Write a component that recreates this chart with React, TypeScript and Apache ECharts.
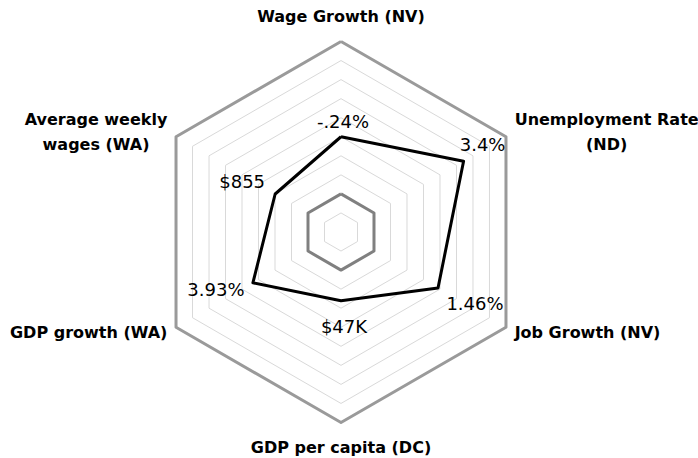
import React, { useEffect, useRef } from "react";
import * as echarts from "echarts";

// Indicators, listed counter-clockwise starting at the top
const indicatorNames = [
  "Wage Growth (NV)",
  "Average weekly\nwages (WA)",
  "GDP growth (WA)",
  "GDP per capita (DC)",
  "Job Growth (NV)",
  "Unemployment Rate\n(ND)",
];
const values = [5.0, 3.99, 5.34, 3.61, 5.88, 7.43];
const valueLabels = ["-.24%", "$855", "3.93%", "$47K", "1.46%", "3.4%"];
const axisMin = 0;
const axisMax = 10;
const innerRingValues = [2, 2, 2, 2, 2, 2];
const outerRingValues = [10, 10, 10, 10, 10, 10];

// label shifts (dx, dy) in px from each vertex, styling only
const labelShift: [number, number][] = [
  [2, -15],
  [-33, -12],
  [-37, 7],
  [3, 26],
  [37, 15],
  [19, -17],
];

const FONT = "DejaVu Sans";

export default function App() {
  const ref = useRef<HTMLDivElement>(null);
  useEffect(() => {
    if (!ref.current) return;
    const chart = echarts.init(ref.current, null, { renderer: "svg" });

    const rich: Record<string, any> = {};
    labelShift.forEach(([dx, dy], i) => {
      rich["v" + i] = {
        fontFamily: FONT,
        fontSize: 18,
        color: "#000",
        padding: [
          Math.max(0, 2 * dy),
          Math.max(0, -2 * dx),
          Math.max(0, -2 * dy),
          Math.max(0, 2 * dx),
        ],
      };
    });

    const nameBase = {
      fontFamily: FONT,
      fontSize: 16,
      fontWeight: "bold",
      color: "#000",
      align: "center",
      lineHeight: 25,
    };

    chart.setOption({
      animation: false,
      backgroundColor: "#fff",
      radar: {
        center: [341, 232],
        radius: 190.5,
        startAngle: 90,
        shape: "polygon",
        splitNumber: 10,
        nameGap: 10,
        indicator: indicatorNames.map((n) => ({ name: n, min: axisMin, max: axisMax })),
        axisName: {
          fontFamily: FONT,
          fontSize: 16,
          fontWeight: "bold",
          color: "#000",
          formatter: (name: string) => {
            const idx = indicatorNames.indexOf(name);
            const key = idx === 0 ? "nt" : idx === 3 ? "nb" : "ns";
            return name
              .split("\n")
              .map((l) => `{${key}|${l}}`)
              .join("\n");
          },
          rich: {
            nt: { ...nameBase, padding: [0, 0, 5, 0] },
            nb: { ...nameBase, padding: [5, 0, 0, 0] },
            ns: { ...nameBase },
          },
        },
        axisLine: { show: false },
        axisTick: { show: false },
        axisLabel: { show: false },
        splitArea: { show: false },
        splitLine: { lineStyle: { color: "#d9d9d9", width: 1 } },
      },
      series: [
        {
          type: "radar",
          silent: true,
          symbol: "none",
          lineStyle: { color: "#9a9a9a", width: 3 },
          data: [{ value: outerRingValues }],
        },
        {
          type: "radar",
          silent: true,
          symbol: "none",
          lineStyle: { color: "#808080", width: 3 },
          data: [{ value: innerRingValues }],
        },
        {
          type: "radar",
          silent: true,
          symbol: "circle",
          symbolSize: 1,
          itemStyle: { color: "#000" },
          lineStyle: { color: "#000", width: 3 },
          label: {
            show: true,
            position: "inside",
            formatter: (p: any) => {
              const i = values.indexOf(p.value);
              if (i < 0) return "";
              return `{v${i}|${valueLabels[i]}}`;
            },
            rich,
          },
          data: [{ value: values }],
        },
      ],
    });
    return () => chart.dispose();
  }, []);
  return (
    <div
      ref={ref}
      style={{ position: "fixed", left: 0, top: 0, width: 698, height: 458, background: "#fff" }}
    />
  );
}
